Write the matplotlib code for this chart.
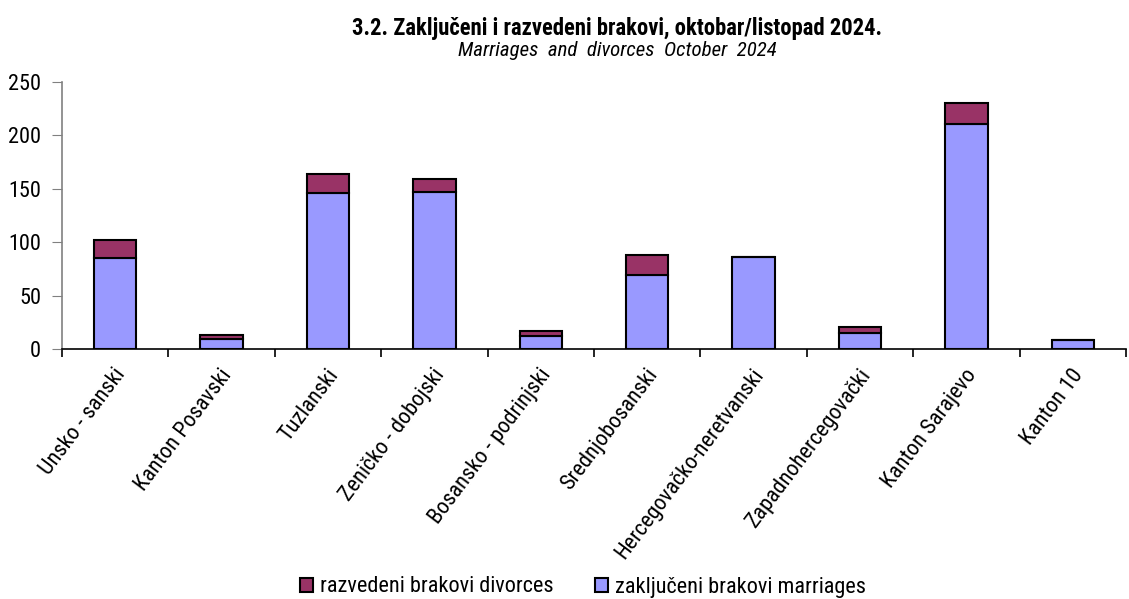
import matplotlib
matplotlib.use("Agg")
import matplotlib.pyplot as plt
import numpy as np
from matplotlib.ticker import FixedLocator

plt.rcParams['font.family'] = ['Roboto Condensed', 'Liberation Sans', 'DejaVu Sans']

categories = ["Unsko - sanski", "Kanton Posavski", "Tuzlanski", "Zeničko - dobojski",
              "Bosansko - podrinjski", "Srednjobosanski", "Hercegovačko-neretvanski",
              "Zapadnohercegovački", "Kanton Sarajevo", "Kanton 10"]
marriages = [85, 9, 146, 147, 12, 69, 86, 15, 211, 8]
divorces = [17, 4, 18, 12, 5, 19, 0, 6, 19, 0]
yticks = [0, 50, 100, 150, 200, 250]

fig = plt.figure(figsize=(11.29, 5.99), dpi=100)
ax = fig.add_axes([62/1129, 1-349/599, (1126-62)/1129, (349-82)/599])

x = np.arange(len(categories))
w = 0.4
ax.bar(x, marriages, w, color='#9999ff', edgecolor='black', linewidth=1.5,
       label='zaključeni brakovi marriages', zorder=3)
ax.bar(x, divorces, w, bottom=marriages, color='#993366', edgecolor='black', linewidth=1.5,
       label='razvedeni brakovi divorces', zorder=3)

ax.set_xlim(-0.5, len(categories) - 0.5)
ax.set_ylim(0, 250)
ax.set_yticks(yticks)
ax.tick_params(axis='y', labelsize=16, length=7, color='#808080', direction='out', pad=8)
ax.xaxis.set_major_locator(FixedLocator(np.arange(-0.5, len(categories), 1.0)))
ax.set_xticklabels([])
ax.xaxis.set_minor_locator(FixedLocator(x + 0.06))
ax.set_xticklabels(categories, minor=True, rotation=53, ha='right', va='center',
                   rotation_mode='anchor', fontsize=16)
ax.tick_params(axis='x', which='major', length=6, width=1.2, color='black')
ax.tick_params(axis='x', which='minor', length=0, pad=16)

for s in ['top', 'right']:
    ax.spines[s].set_visible(False)
ax.spines['left'].set_color('#808080')
ax.spines['left'].set_linewidth(1.2)
ax.spines['bottom'].set_color('black')
ax.spines['bottom'].set_linewidth(1.2)

fig.text(617/1129, 1-28/599, "3.2. Zaključeni i razvedeni brakovi, oktobar/listopad 2024.",
         ha='center', va='center', fontsize=16.3, fontweight='bold')
fig.text(617/1129, 1-51/599, "Marriages  and  divorces  October  2024",
         ha='center', va='center', fontsize=15, style='italic')

handles, labels = ax.get_legend_handles_labels()
leg = fig.legend(handles[::-1], labels[::-1], loc='center', bbox_to_anchor=(583/1129, 1-587/599),
                 ncol=2, frameon=False, fontsize=16, handlelength=0.6, handleheight=0.6,
                 handletextpad=0.3, columnspacing=1.85)

fig.savefig('out.png', dpi=100)
